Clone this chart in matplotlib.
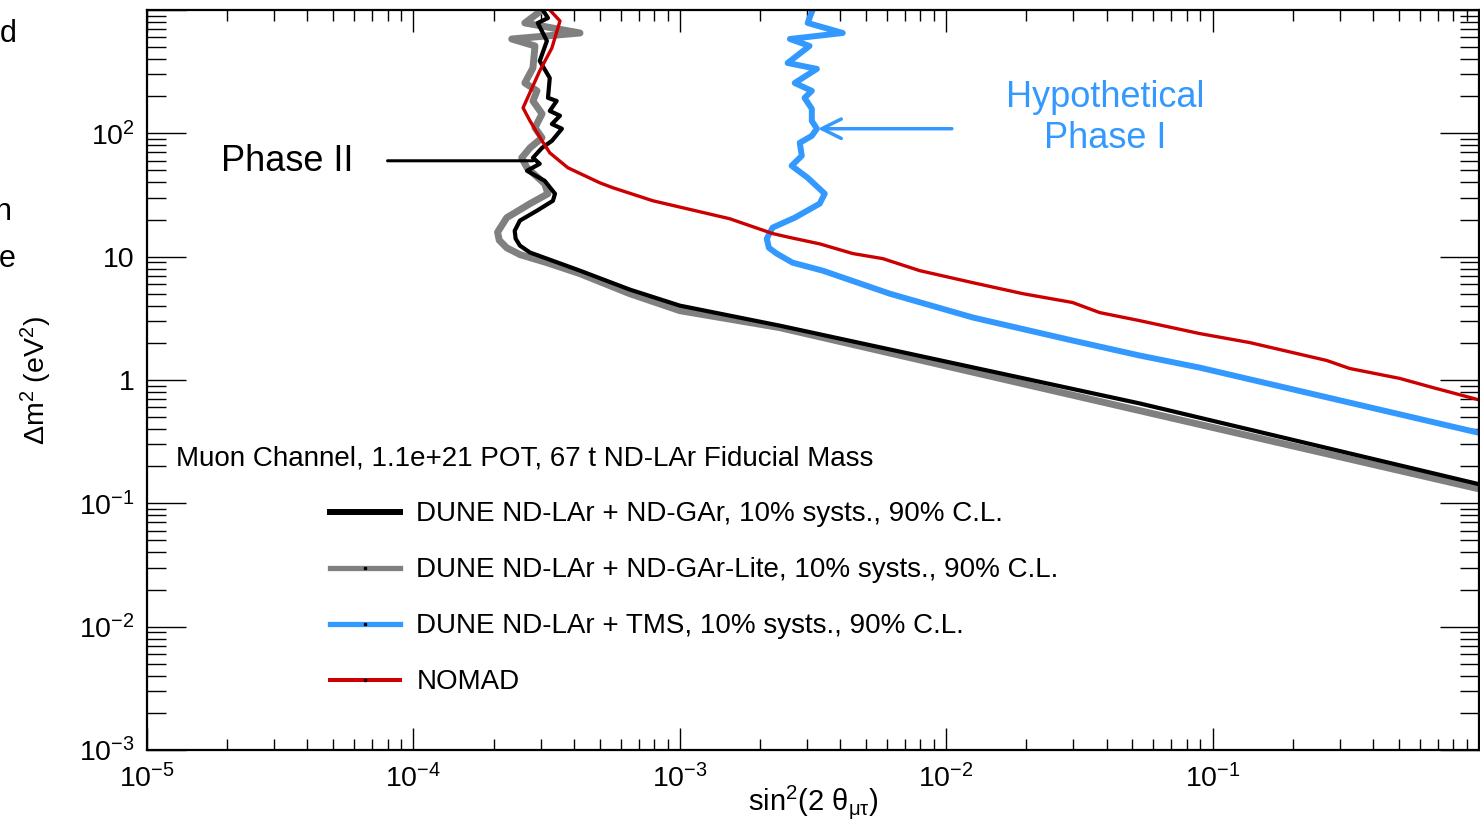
import matplotlib
matplotlib.use('Agg')
import matplotlib.pyplot as plt
import numpy as np
from matplotlib.lines import Line2D
from matplotlib.ticker import LogLocator, NullFormatter

plt.rcParams['font.family'] = ['Liberation Sans', 'DejaVu Sans']
plt.rcParams['mathtext.fontset'] = 'custom'
plt.rcParams['mathtext.rm'] = 'Liberation Sans'
plt.rcParams['mathtext.it'] = 'Liberation Sans:italic'
plt.rcParams['mathtext.default'] = 'regular'

# contours, top of the plot downwards
ndgar_sin2 = [3.06e-4, 3.20e-4, 2.93e-4, 3.17e-4, 2.98e-4, 3.25e-4, 3.20e-4, 3.45e-4,
              3.25e-4, 3.55e-4, 3.31e-4, 3.61e-4, 3.31e-4, 3.04e-4, 2.81e-4, 2.98e-4,
              2.67e-4, 3.11e-4, 3.40e-4, 3.34e-4, 2.91e-4, 2.51e-4, 2.40e-4, 2.42e-4,
              2.51e-4, 2.74e-4, 3.17e-4, 4.22e-4, 6.49e-4, 1.0e-3, 2.37e-3, 5.32e-2, 1.0]
ndgar_dm2 = [1000, 861, 785, 561, 386, 281, 194, 183,
             152, 139, 119, 109, 86.9, 76.3, 63.3, 56.6,
             49.7, 41.2, 32.4, 28.4, 23.6, 19.6, 16.2, 14.0,
             12.3, 10.8, 9.64, 7.7, 5.41, 4.01, 2.76, 0.646, 0.143]

lite_sin2 = [3.04e-4, 2.62e-4, 4.22e-4, 2.34e-4, 2.86e-4, 2.81e-4, 2.62e-4, 2.91e-4,
             2.81e-4, 3.04e-4, 2.86e-4, 3.04e-4, 2.74e-4, 2.55e-4, 2.67e-4, 3.11e-4,
             3.20e-4, 2.74e-4, 2.24e-4, 2.07e-4, 2.10e-4, 2.24e-4, 2.51e-4, 3.17e-4,
             4.22e-4, 6.49e-4, 1.0e-3, 2.37e-3, 1.0]
lite_dm2 = [1000, 785, 651, 582, 511, 339, 256, 221,
            183, 144, 111, 92, 76.3, 63.3, 52.6, 39.0,
            32.4, 26.9, 20.7, 15.8, 13.6, 11.8, 10.4, 8.94,
            7.28, 5.01, 3.65, 2.66, 0.131]

tms_sin2 = [3.15e-3, 3.02e-3, 4.09e-3, 2.59e-3, 3.07e-3, 2.54e-3, 3.27e-3, 2.70e-3,
            3.13e-3, 2.94e-3, 3.13e-3, 3.13e-3, 3.27e-3, 3.13e-3, 2.82e-3, 2.87e-3,
            2.63e-3, 3.02e-3, 3.50e-3, 3.35e-3, 2.70e-3, 2.23e-3, 2.12e-3, 2.16e-3,
            2.31e-3, 2.65e-3, 3.44e-3, 6.14e-3, 1.26e-2, 2.98e-2, 5.32e-2, 8.94e-2, 1.0]
tms_dm2 = [1000, 785, 651, 582, 511, 372, 333, 256,
           221, 194, 158, 126, 109, 95.4, 83.8, 65.8,
           54.6, 43.6, 32.4, 26.9, 20.7, 17.2, 14.0, 11.8,
           10.6, 8.94, 7.7, 5.01, 3.21, 2.09, 1.58, 1.26, 0.373]

nomad_sin2 = [3.25e-4, 3.55e-4, 3.31e-4, 2.98e-4, 2.58e-4, 2.74e-4, 3.04e-4, 3.25e-4,
              3.80e-4, 5.01e-4, 5.61e-4, 7.92e-4, 1.54e-3, 2.23e-3, 2.59e-3, 3.35e-3,
              4.46e-3, 5.78e-3, 7.96e-3, 1.26e-2, 1.94e-2, 2.98e-2, 3.77e-2, 5.32e-2,
              8.94e-2, 0.138, 0.268, 0.327, 0.504, 0.670, 1.0]
nomad_dm2 = [1000, 815, 492, 321, 161, 126, 86.9, 69.5,
             52.6, 39.7, 36.2, 28.4, 20.3, 15.4, 14.3, 12.7,
             10.6, 9.64, 7.7, 6.15, 5.01, 4.25, 3.52, 3.03,
             2.38, 2.01, 1.44, 1.24, 1.03, 0.869, 0.69]

labels = ["DUNE ND-LAr + ND-GAr, 10% systs., 90% C.L.",
          "DUNE ND-LAr + ND-GAr-Lite, 10% systs., 90% C.L.",
          "DUNE ND-LAr + TMS, 10% systs., 90% C.L.",
          "NOMAD"]

x_ticks = [1e-5, 1e-4, 1e-3, 1e-2, 1e-1, 1.0]
x_ticklabels = ['10$^{-5}$', '10$^{-4}$', '10$^{-3}$', '10$^{-2}$', '10$^{-1}$', '']
y_ticks = [1e-3, 1e-2, 1e-1, 1.0, 10.0, 100.0, 1000.0]
y_ticklabels = ['10$^{-3}$', '10$^{-2}$', '10$^{-1}$', '1', '10', '10$^{2}$', '']

blue = '#3399ff'
red = '#cc0000'
gray = '#808080'

fig = plt.figure(figsize=(14.8, 8.22), dpi=100)
ax = fig.add_axes([147/1480, 72/822, 1332/1480, 740/822])
ax.set_xscale('log')
ax.set_yscale('log')

ax.plot(lite_sin2, lite_dm2, color=gray, lw=5.0)
ax.plot(ndgar_sin2, ndgar_dm2, color='black', lw=3.0)
ax.plot(tms_sin2, tms_dm2, color=blue, lw=4.3)
ax.plot(nomad_sin2, nomad_dm2, color=red, lw=2.4)

ax.set_xlim(1e-5, 1.0)
ax.set_ylim(1e-3, 1e3)

ax.set_xticks(x_ticks, x_ticklabels)
ax.set_yticks(y_ticks, y_ticklabels)
for a in (ax.xaxis, ax.yaxis):
    a.set_minor_locator(LogLocator(base=10, subs=np.arange(2, 10), numticks=30))
    a.set_minor_formatter(NullFormatter())

ax.tick_params(which='both', direction='in', top=True, right=True, width=1.0, labelsize=20.5)
ax.tick_params(axis='x', which='major', length=16, pad=10)
ax.tick_params(axis='x', which='minor', length=8)
ax.tick_params(axis='y', which='major', length=28, pad=9)
ax.tick_params(axis='y', which='minor', length=14)
for s in ax.spines.values():
    s.set_linewidth(1.6)

ax.set_xlabel(r'sin$^2$(2 $\theta_{\mu\tau}$)', fontsize=21, labelpad=-7)
ax.set_ylabel(r'$\Delta$m$^2$ (eV$^2$)', fontsize=20.5, labelpad=18)

ax.text(0.0218, 0.394, 'Muon Channel, 1.1e+21 POT, 67 t ND-LAr Fiducial Mass',
        transform=ax.transAxes, va='center', ha='left', fontsize=20)

handles = [Line2D([], [], color='black', lw=4.3),
           Line2D([], [], color=gray, lw=3.8, marker='s', ms=1.5, mfc='k', mec='k'),
           Line2D([], [], color=blue, lw=3.8, marker='s', ms=1.5, mfc='k', mec='k'),
           Line2D([], [], color=red, lw=2.9, marker='s', ms=1.5, mfc='k', mec='k')]
ax.legend(handles, labels, loc='upper left', bbox_to_anchor=(0.1375, 0.336),
          frameon=False, borderpad=0, borderaxespad=0, handlelength=2.5,
          handletextpad=0.6, labelspacing=1.08, fontsize=20, numpoints=1)

# annotations
ax.text(3.37e-5, 49.7, 'Phase II', ha='center', va='baseline', fontsize=26)
ax.annotate('', xy=(2.81e-4, 59.9), xytext=(8.0e-5, 59.9),
            arrowprops=dict(arrowstyle='-', lw=2.2, color='black', shrinkA=0, shrinkB=0))
ax.text(3.94e-2, 133, 'Hypothetical\nPhase I', ha='center', va='center',
        fontsize=26, color=blue, linespacing=1.2)
ax.annotate('', xy=(3.3e-3, 109), xytext=(1.05e-2, 109),
            arrowprops=dict(arrowstyle='->,head_length=0.7,head_width=0.35',
                            mutation_scale=20, lw=2.5, color=blue, shrinkA=0, shrinkB=0))

# clipped text from the neighbouring page column
fig.text(0.0, 1 - 42/822, 'd', fontsize=22, va='baseline', ha='left')
fig.text(-5/1480, 1 - 220/822, 'n', fontsize=22, va='baseline', ha='left')
fig.text(-1/1480, 1 - 267/822, 'e', fontsize=22, va='baseline', ha='left')

fig.savefig('out.png', dpi=100)
